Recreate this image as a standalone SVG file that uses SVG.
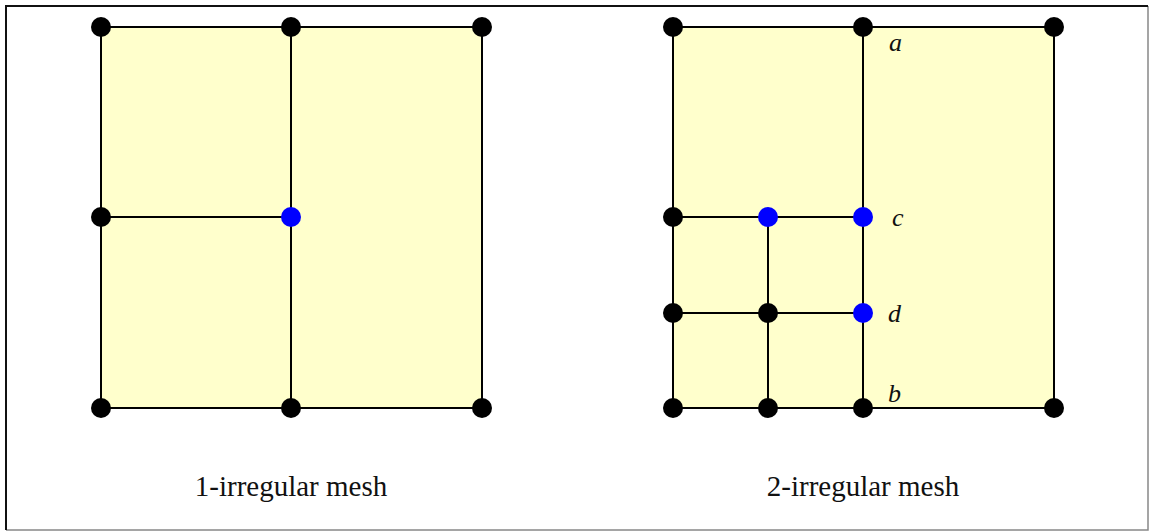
<svg xmlns="http://www.w3.org/2000/svg" width="1149" height="532" viewBox="0 0 1149 532">
<style>
.cell{fill:#FFFFCC;stroke:#000;stroke-width:2}
.edge{stroke:#000;stroke-width:2;fill:none}
.n{fill:#000}
.b{fill:#0000FF}
.lbl{font-family:"Liberation Serif",serif;font-size:29px;fill:#111;text-anchor:middle}
.it{font-family:"Liberation Serif",serif;font-style:italic;font-size:26px;fill:#111}
</style>
<rect x="0" y="0" width="1149" height="532" fill="#fff"/>
<path d="M6,530 L1148,530 L1148,6" fill="none" stroke="#888" stroke-width="1.5"/>
<path d="M6,530 L6,6 L1148,6" fill="none" stroke="#111" stroke-width="2"/>
<g id="mesh1-cells">
<rect class="cell" x="101" y="27" width="381" height="381"/>
</g>
<g id="mesh2-cells">
<rect class="cell" x="673" y="27" width="381" height="381"/>
</g>
<g id="connectors">
<line class="edge" x1="291" y1="27" x2="291" y2="408"/>
<line class="edge" x1="101" y1="217" x2="291" y2="217"/>
<line class="edge" x1="863" y1="27" x2="863" y2="408"/>
<line class="edge" x1="673" y1="217" x2="863" y2="217"/>
<line class="edge" x1="673" y1="313" x2="863" y2="313"/>
<line class="edge" x1="768" y1="217" x2="768" y2="408"/>
</g>
<g id="mesh1-nodes">
<circle class="n" cx="101" cy="27" r="10"/>
<circle class="n" cx="291" cy="27" r="10"/>
<circle class="n" cx="482" cy="27" r="10"/>
<circle class="n" cx="101" cy="217" r="10"/>
<circle class="b" cx="291" cy="217" r="10"/>
<circle class="n" cx="101" cy="408" r="10"/>
<circle class="n" cx="291" cy="408" r="10"/>
<circle class="n" cx="482" cy="408" r="10"/>
</g>
<g id="mesh2-nodes">
<circle class="n" cx="673" cy="27" r="10"/>
<circle class="n" cx="863" cy="27" r="10"/>
<circle class="n" cx="1054" cy="27" r="10"/>
<circle class="n" cx="673" cy="217" r="10"/>
<circle class="b" cx="768" cy="217" r="10"/>
<circle class="b" cx="863" cy="217" r="10"/>
<circle class="n" cx="673" cy="313" r="10"/>
<circle class="n" cx="768" cy="313" r="10"/>
<circle class="b" cx="863" cy="313" r="10"/>
<circle class="n" cx="673" cy="408" r="10"/>
<circle class="n" cx="768" cy="408" r="10"/>
<circle class="n" cx="863" cy="408" r="10"/>
<circle class="n" cx="1054" cy="408" r="10"/>
</g>
<g id="labels">
<text class="it" x="889" y="51">a</text>
<text class="it" x="892" y="226">c</text>
<text class="it" x="888" y="322">d</text>
<text class="it" x="888" y="402">b</text>
<text class="lbl" x="291" y="496">1-irregular mesh</text>
<text class="lbl" x="863" y="496">2-irregular mesh</text>
</g>
</svg>
